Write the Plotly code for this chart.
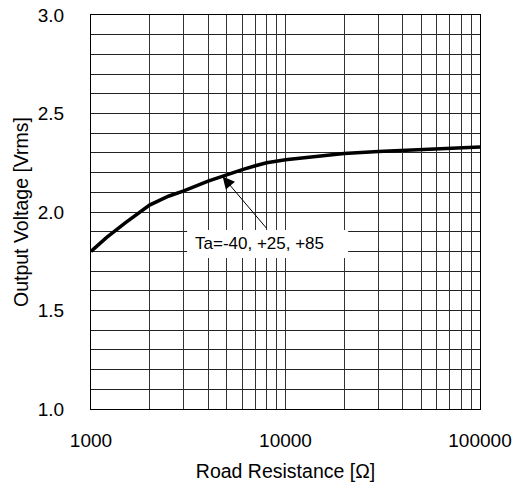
import math
import plotly.graph_objects as go

resistance = [1000, 1200, 1500, 2000, 2500, 3000, 4000, 5000, 6000, 7000, 8000,
              10000, 15000, 20000, 30000, 50000, 70000, 100000]
voltage = [1.80, 1.87, 1.945, 2.035, 2.08, 2.107, 2.157, 2.19, 2.215, 2.235, 2.25,
           2.265, 2.285, 2.297, 2.307, 2.318, 2.325, 2.33]

x_tickvals = [1000, 2000, 3000, 4000, 5000, 6000, 7000, 8000, 9000,
              10000, 20000, 30000, 40000, 50000, 60000, 70000, 80000, 90000, 100000]
x_ticktext = ["1000", "", "", "", "", "", "", "", "",
              "10000", "", "", "", "", "", "", "", "", "100000"]
y_tickvals = [1.0, 1.5, 2.0, 2.5, 3.0]
y_ticktext = ["1.0", "1.5", "2.0", "2.5", "3.0"]

annot_text = "Ta=-40, +25, +85"
arrow_x = 4750
arrow_y = 2.18

FONT = "Liberation Sans, Arial, sans-serif"

fig = go.Figure()
fig.add_trace(go.Scatter(x=resistance, y=voltage, mode="lines",
                         line=dict(color="black", width=3.5),
                         showlegend=False, hoverinfo="skip"))

fig.update_layout(
    width=521, height=489,
    margin=dict(l=91, r=41, t=15, b=80),
    paper_bgcolor="white", plot_bgcolor="white",
    font=dict(family=FONT, size=19, color="black"),
    xaxis=dict(type="log", range=[3, 5], tickvals=x_tickvals, ticktext=x_ticktext,
               showgrid=True, gridcolor="#333333", gridwidth=1,
               showline=True, linecolor="black", linewidth=1, mirror=True,
               ticks="", ticklabelstandoff=14, zeroline=False, automargin=False,
               title=dict(text="Road Resistance [Ω]", font=dict(size=19.5), standoff=14)),
    yaxis=dict(range=[1.0, 3.0], tickvals=y_tickvals, ticktext=y_ticktext,
               showgrid=True, gridcolor="#222222", gridwidth=1,
               minor=dict(dtick=0.1, showgrid=True, gridcolor="#222222", gridwidth=1),
               showline=True, linecolor="black", linewidth=1, mirror=True,
               ticks="", ticklabelstandoff=22, zeroline=False, automargin=False,
               title=dict(text="Output Voltage [Vrms]", font=dict(size=19.5), standoff=3)),
)

# white box behind label
fig.add_shape(type="rect", xref="paper", yref="paper",
              x0=0.247, x1=0.661, y0=0.383, y1=0.454,
              fillcolor="white", line=dict(width=0), layer="above")

fig.add_annotation(x=math.log10(arrow_x), y=arrow_y, xref="x", yref="y",
                   text="", showarrow=True, arrowhead=2, arrowsize=2.4, arrowwidth=1,
                   arrowcolor="black", ax=45, ay=53)
fig.add_annotation(x=0.262, y=0.419, xref="paper", yref="paper",
                   text=annot_text, showarrow=False, xanchor="left", yanchor="middle",
                   font=dict(size=17, family=FONT, color="black"))

fig.write_html("out.html", config={"displayModeBar": False},
               post_script="document.body.style.margin='0';")
